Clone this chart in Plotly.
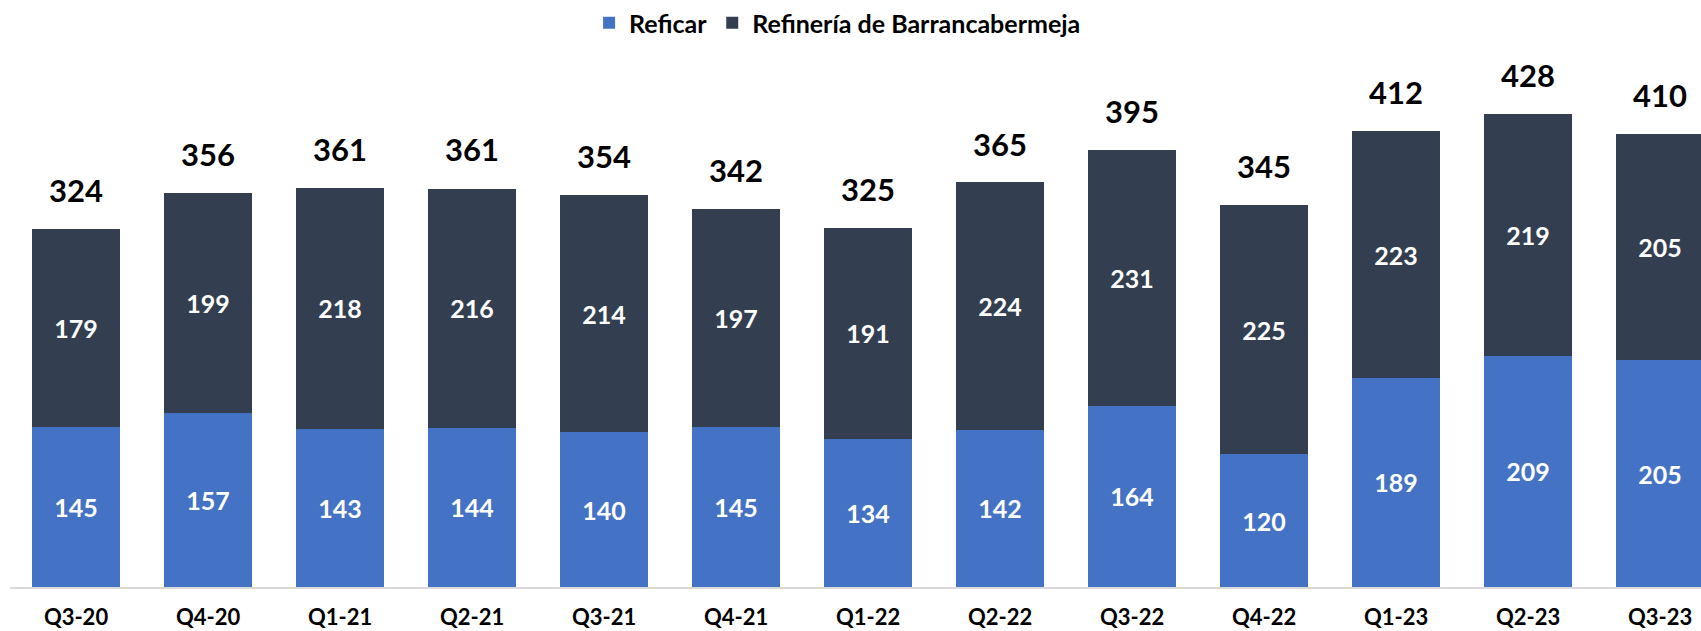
import plotly.graph_objects as go

categories = ["Q3-20", "Q4-20", "Q1-21", "Q2-21", "Q3-21", "Q4-21", "Q1-22",
              "Q2-22", "Q3-22", "Q4-22", "Q1-23", "Q2-23", "Q3-23"]
reficar = [145, 157, 143, 144, 140, 145, 134, 142, 164, 120, 189, 209, 205]
barranca = [179, 199, 218, 216, 214, 197, 191, 224, 231, 225, 223, 219, 205]
totals = [324, 356, 361, 361, 354, 342, 325, 365, 395, 345, 412, 428, 410]

FONT = "Lato"
BLUE = "#4472C4"
DARK = "#333F50"

fig = go.Figure()
fig.add_trace(go.Bar(
    x=categories, y=reficar, name="Reficar", marker_color=BLUE,
    marker_line_width=0,
    text=[str(v) for v in reficar], textposition="inside",
    insidetextanchor="middle",
    textfont=dict(family=FONT, size=25, color="white", weight="bold"),
))
fig.add_trace(go.Bar(
    x=categories, y=barranca, name="Refinería de Barrancabermeja",
    marker_color=DARK, marker_line_width=0,
    text=[str(v) for v in barranca], textposition="inside",
    insidetextanchor="middle",
    textfont=dict(family=FONT, size=25, color="white", weight="bold"),
))

for c, t in zip(categories, totals):
    fig.add_annotation(
        x=c, y=t, text=str(t), showarrow=False, yanchor="bottom",
        yshift=18, font=dict(family=FONT, size=31, color="black", weight="bold"),
    )

fig.update_layout(
    barmode="stack",
    bargap=0.333,
    width=1701, height=631,
    margin=dict(l=10, r=0, t=0, b=44),
    plot_bgcolor="white", paper_bgcolor="white",
    showlegend=True,
    legend=dict(
        orientation="h", x=0.4894, xanchor="center", y=0.9625, yanchor="middle",
        font=dict(family=FONT, size=25, color="black", weight="bold"),
        traceorder="normal", bgcolor="rgba(0,0,0,0)",
    ),
    xaxis=dict(
        range=[-0.5, 12.31], showline=True, linecolor="#D9D9D9", linewidth=2,
        showgrid=False, ticks="", zeroline=False, ticklabelstandoff=10,
        tickfont=dict(family=FONT, size=22, color="black", weight="bold"),
    ),
    yaxis=dict(range=[0, 529.8], visible=False, showgrid=False, zeroline=False),
)

fig.write_html(
    "out.html",
    config={"displayModeBar": False},
    post_script="document.body.style.margin='0';document.body.style.overflow='hidden';",
)
